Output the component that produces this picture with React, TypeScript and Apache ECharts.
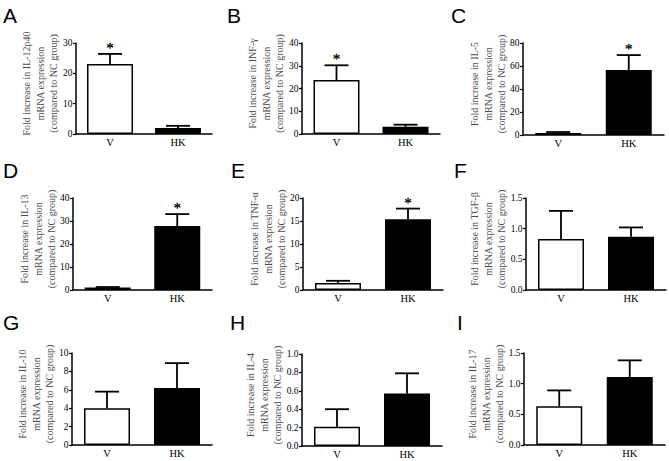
import React, { useEffect, useRef } from "react";
import * as echarts from "echarts";

const panelLetters = ["A", "B", "C", "D", "E", "F", "G", "H", "I"];
const cytokines = ["IL-12p40", "INF-γ", "IL-5", "IL-13", "TNF-α", "TGF-β", "IL-10", "IL-4", "IL-17"];
const secondLines = [
  "mRNA expression", "mRNA expression", "mRNA expression",
  "mRNA expression", "mRNA expresion", "mRNA expression",
  "mRNA expression", "mRNA expression", "mRNA expression",
];
const thirdLine = "(compared to NC group)";
const categories = ["V", "HK"];
const meanV = [23.1, 23.7, 1.8, 1.1, 1.5, 0.83, 4.0, 0.21, 0.63];
const meanHK = [2.0, 3.2, 56.5, 27.8, 15.4, 0.87, 6.2, 0.57, 1.11];
const semV = [3.3, 6.5, 0.8, 0.2, 0.5, 0.46, 1.8, 0.19, 0.26];
const semHK = [0.7, 0.9, 13.0, 5.2, 2.3, 0.15, 2.7, 0.22, 0.27];
const sigV = [1, 1, 0, 0, 0, 0, 0, 0, 0];
const sigHK = [0, 0, 1, 1, 1, 0, 0, 0, 0];
const yMax = [30, 40, 80, 40, 20, 1.5, 10, 1.0, 1.5];
const yInterval = [10, 10, 20, 10, 5, 0.5, 2, 0.2, 0.5];
const yDecimals = [0, 0, 0, 0, 0, 1, 0, 1, 1];

// layout (pixels)
const gridBoxes = [
  { left: 76, top: 43, width: 136, height: 91 },
  { left: 302, top: 43, width: 138, height: 91 },
  { left: 523, top: 43, width: 141, height: 92 },
  { left: 73, top: 198, width: 139, height: 92 },
  { left: 303, top: 198, width: 140, height: 92 },
  { left: 526, top: 198, width: 140, height: 92 },
  { left: 72, top: 353, width: 140, height: 92 },
  { left: 302, top: 354, width: 140, height: 92 },
  { left: 524, top: 353, width: 141, height: 92 },
];
// horizontal offset of the middle title line from the y axis, and vertical shift
const titleOffsetX = [-36, -36, -35, -35, -35, -38, -36, -38, -38];
const titleShiftY = -5;
const letterPos = [
  [3, 8], [227, 8], [451, 8],
  [3, 163], [231, 163], [454, 163],
  [3, 315], [230, 315], [457, 315],
];

const SERIF = '"Liberation Serif", "Times New Roman", serif';

export default function App() {
  const ref = useRef<HTMLDivElement>(null);
  useEffect(() => {
    if (!ref.current) return;
    const chart = echarts.init(ref.current, null, { renderer: "svg" });

    const grids: any[] = [];
    const xAxes: any[] = [];
    const yAxes: any[] = [];
    const series: any[] = [];
    const graphics: any[] = [];

    panelLetters.forEach((letter, i) => {
      const g = gridBoxes[i];
      grids.push({ ...g, containLabel: false });
      xAxes.push({
        type: "category",
        gridIndex: i,
        data: categories,
        boundaryGap: true,
        axisLine: { lineStyle: { color: "#000", width: 1.5 } },
        axisTick: { alignWithLabel: true, length: 3, lineStyle: { color: "#000", width: 1.2 } },
        axisLabel: { color: "#000", fontFamily: SERIF, fontSize: 10.5, margin: 3 },
      });
      yAxes.push({
        type: "value",
        gridIndex: i,
        min: 0,
        max: yMax[i],
        interval: yInterval[i],
        axisLine: { show: true, lineStyle: { color: "#000", width: 1.5 } },
        axisTick: { show: true, length: 3, lineStyle: { color: "#000", width: 1.2 } },
        splitLine: { show: false },
        axisLabel: {
          color: "#000",
          fontFamily: SERIF,
          fontSize: 9.5,
          margin: 3.5,
          formatter: (v: number) => v.toFixed(yDecimals[i]),
        },
      });
      series.push({
        type: "bar",
        xAxisIndex: i,
        yAxisIndex: i,
        barWidth: 46,
        itemStyle: { borderColor: "#000", borderWidth: 1.5 },
        data: [
          { value: meanV[i], itemStyle: { color: "#fff" } },
          { value: meanHK[i], itemStyle: { color: "#000" } },
        ],
        z: 2,
      });
      series.push({
        type: "custom",
        xAxisIndex: i,
        yAxisIndex: i,
        encode: { x: 0, y: 1 },
        z: 3,
        data: [
          [0, meanV[i], meanV[i] + semV[i], sigV[i]],
          [1, meanHK[i], meanHK[i] + semHK[i], sigHK[i]],
        ],
        renderItem: (params: any, api: any) => {
          const x = api.value(0);
          const m = api.value(1);
          const t = api.value(2);
          const s = api.value(3);
          const p0 = api.coord([x, m]);
          const p1 = api.coord([x, t]);
          const children: any[] = [
            {
              type: "line",
              shape: { x1: p0[0], y1: p0[1], x2: p1[0], y2: p1[1] },
              style: { stroke: "#000", lineWidth: 1.8 },
            },
            {
              type: "line",
              shape: { x1: p1[0] - 12, y1: p1[1], x2: p1[0] + 12, y2: p1[1] },
              style: { stroke: "#000", lineWidth: 1.8 },
            },
          ];
          if (s) {
            children.push({
              type: "text",
              style: {
                text: "*",
                x: p1[0],
                y: p1[1] - 6,
                align: "center",
                verticalAlign: "middle",
                fontFamily: SERIF,
                fontSize: 15,
                fill: "#000",
                stroke: "#000",
                lineWidth: 0.3,
              },
            });
          }
          return { type: "group", children };
        },
      });

      // y-axis title (three rotated lines)
      graphics.push({
        type: "text",
        x: g.left + titleOffsetX[i],
        y: g.top + g.height / 2 + titleShiftY,
        rotation: Math.PI / 2,
        style: {
          text: `Fold increase in ${cytokines[i]}\n${secondLines[i]}\n${thirdLine}`,
          font: `10px ${SERIF}`,
          fill: "#4a4a4a",
          align: "center",
          verticalAlign: "middle",
          lineHeight: 13.8,
        },
      });
      // panel letter
      graphics.push({
        type: "text",
        left: letterPos[i][0],
        top: letterPos[i][1] - 3,
        style: {
          text: letter,
          font: '21px "Liberation Sans", Arial, sans-serif',
          fill: "#000",
        },
      });
    });

    chart.setOption({
      animation: false,
      backgroundColor: "#fff",
      grid: grids,
      xAxis: xAxes,
      yAxis: yAxes,
      series,
      graphic: graphics,
    });
    return () => chart.dispose();
  }, []);

  return (
    <div
      ref={ref}
      style={{ position: "fixed", left: 0, top: 0, width: 669, height: 461, background: "#fff" }}
    />
  );
}
